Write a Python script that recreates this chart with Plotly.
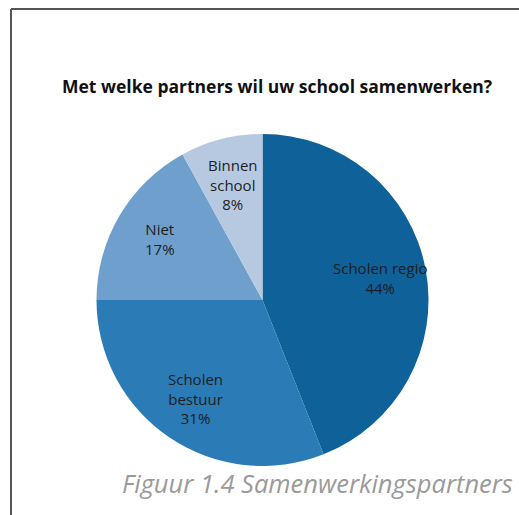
import math
import plotly.graph_objects as go

labels = ["Scholen regio", "Scholen bestuur", "Niet", "Binnen school"]
text_labels = ["Scholen regio<br>44%", "Scholen<br>bestuur<br>31%", "Niet<br>17%", "Binnen<br>school<br>8%"]
values = [44, 31, 17, 8]
colors = ["#0e6199", "#2a7bb6", "#6e9fcd", "#b6c9e1"]

W, H = 519, 515

# pie placement (pixels)
cx, cy, R = 262.5, 300, 166
label_r = 0.72

fig = go.Figure(go.Pie(
    labels=labels,
    values=values,
    textinfo="none",
    sort=False,
    direction="clockwise",
    rotation=0,
    marker=dict(colors=colors, line=dict(width=0)),
    domain=dict(x=[(cx - R) / W, (cx + R) / W], y=[1 - (cy + R) / H, 1 - (cy - R) / H]),
    showlegend=False,
    hoverinfo="label+percent",
))

# slice labels placed at the mid angle of each slice
annotations = []
total = sum(values)
cum = 0
for v, t in zip(values, text_labels):
    mid = (cum + v / 2) / total * 2 * math.pi
    cum += v
    px = cx + label_r * R * math.sin(mid)
    py = cy - label_r * R * math.cos(mid)
    annotations.append(dict(text=t, xref="paper", yref="paper", x=px / W, y=1 - py / H,
                            xanchor="center", yanchor="middle", showarrow=False,
                            font=dict(family="Open Sans, sans-serif", size=15, color="#1e1e1e")))

annotations += [
    dict(text="<b>Met welke partners wil uw school samenwerken?</b>", xref="paper", yref="paper",
         x=277 / W, y=1 - 86 / H, xanchor="center", yanchor="middle", showarrow=False,
         font=dict(family="Open Sans, sans-serif", size=17.5, color="#111111")),
    dict(text="<i>Figuur 1.4 Samenwerkingspartners</i>", xref="paper", yref="paper",
         x=120 / W, y=1 - 483 / H, xanchor="left", yanchor="middle", showarrow=False,
         font=dict(family="Open Sans, sans-serif", size=25.5, color="#9a9a9a")),
]

fig.update_layout(
    width=W, height=H,
    margin=dict(l=0, r=0, t=0, b=0),
    paper_bgcolor="white",
    plot_bgcolor="white",
    showlegend=False,
    shapes=[
        dict(type="line", xref="paper", yref="paper", x0=11 / W, x1=1.01, y0=1 - 9 / H, y1=1 - 9 / H,
             line=dict(color="#555555", width=2)),
        dict(type="line", xref="paper", yref="paper", x0=11 / W, x1=11 / W, y0=1 - 9 / H, y1=-0.01,
             line=dict(color="#555555", width=2)),
    ],
    annotations=annotations,
)

fig.write_html("out.html", config={"displayModeBar": False},
               post_script="document.body.style.margin='0';document.body.style.overflow='hidden';")
